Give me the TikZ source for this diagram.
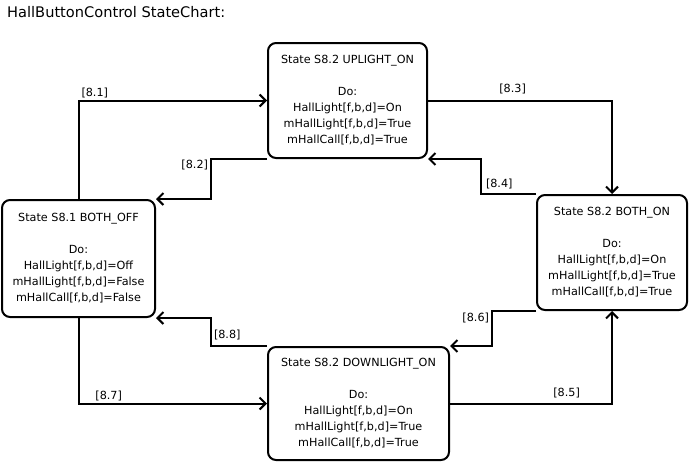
\documentclass[tikz,border=0pt]{standalone}
\usepackage{fontspec}
\setmainfont{DejaVu Sans}
\usetikzlibrary{arrows.meta}

\begin{document}
\begin{tikzpicture}[x=1pt,y=-1pt]
\tikzstyle{state}=[draw,line width=2pt,rounded corners=8pt,align=center,inner sep=0pt,font=\fontsize{11.2}{16}\selectfont]
\tikzstyle{trans}=[draw,line width=2pt,-{Straight Barb[length=6pt,width=12pt]}]
\tikzstyle{guard}=[inner sep=2pt,font=\fontsize{11.2}{13}\selectfont]
\useasboundingbox (0,0) rectangle (689,463);
\node[anchor=west,inner sep=0pt,font=\fontsize{14.6}{16}\selectfont] (title) at (7,12) {HallButtonControl StateChart:};
\node[state,minimum width=159pt,minimum height=115pt] (up) at (347.5,100.5)
  {State S8.2 UPLIGHT\_ON\\[16pt]Do:\\HallLight[f,b,d]=On\\mHallLight[f,b,d]=True\\mHallCall[f,b,d]=True};
\node[state,minimum width=153pt,minimum height=117pt] (off) at (78.5,258.5)
  {State S8.1 BOTH\_OFF\\[16pt]Do:\\HallLight[f,b,d]=Off\\mHallLight[f,b,d]=False\\mHallCall[f,b,d]=False};
\node[state,minimum width=150pt,minimum height=115pt] (on) at (612,252.5)
  {State S8.2 BOTH\_ON\\[16pt]Do:\\HallLight[f,b,d]=On\\mHallLight[f,b,d]=True\\mHallCall[f,b,d]=True};
\node[state,minimum width=181pt,minimum height=113pt] (down) at (358.5,403.5)
  {State S8.2 DOWNLIGHT\_ON\\[16pt]Do:\\HallLight[f,b,d]=On\\mHallLight[f,b,d]=True\\mHallCall[f,b,d]=True};
\draw[trans] (off.north) |- node[guard,pos=0.5,above right]{[8.1]} (up.west);
\draw[trans] (up.south west) -- ++(-56,0) node[guard,below left,yshift=2pt]{[8.2]} |- (off.north east);
\draw[trans] (up.east) -| node[guard,pos=0.23,above,yshift=4pt]{[8.3]} (on.north);
\draw[trans] (on.north west) -- ++(-55,0) node[guard,above right,xshift=2pt,yshift=2pt]{[8.4]} |- (up.south east);
\draw[trans] (down.east) -| node[guard,pos=0.36,above,yshift=3pt]{[8.5]} (on.south);
\draw[trans] (on.south west) -- ++(-44,0) node[guard,below left,yshift=1pt]{[8.6]} |- (down.north east);
\draw[trans] (off.south) |- node[guard,pos=0.58,above]{[8.7]} (down.west);
\draw[trans] (down.north west) -- ++(-56,0) node[guard,above right,yshift=3pt]{[8.8]} |- (off.south east);
\end{tikzpicture}
\end{document}
